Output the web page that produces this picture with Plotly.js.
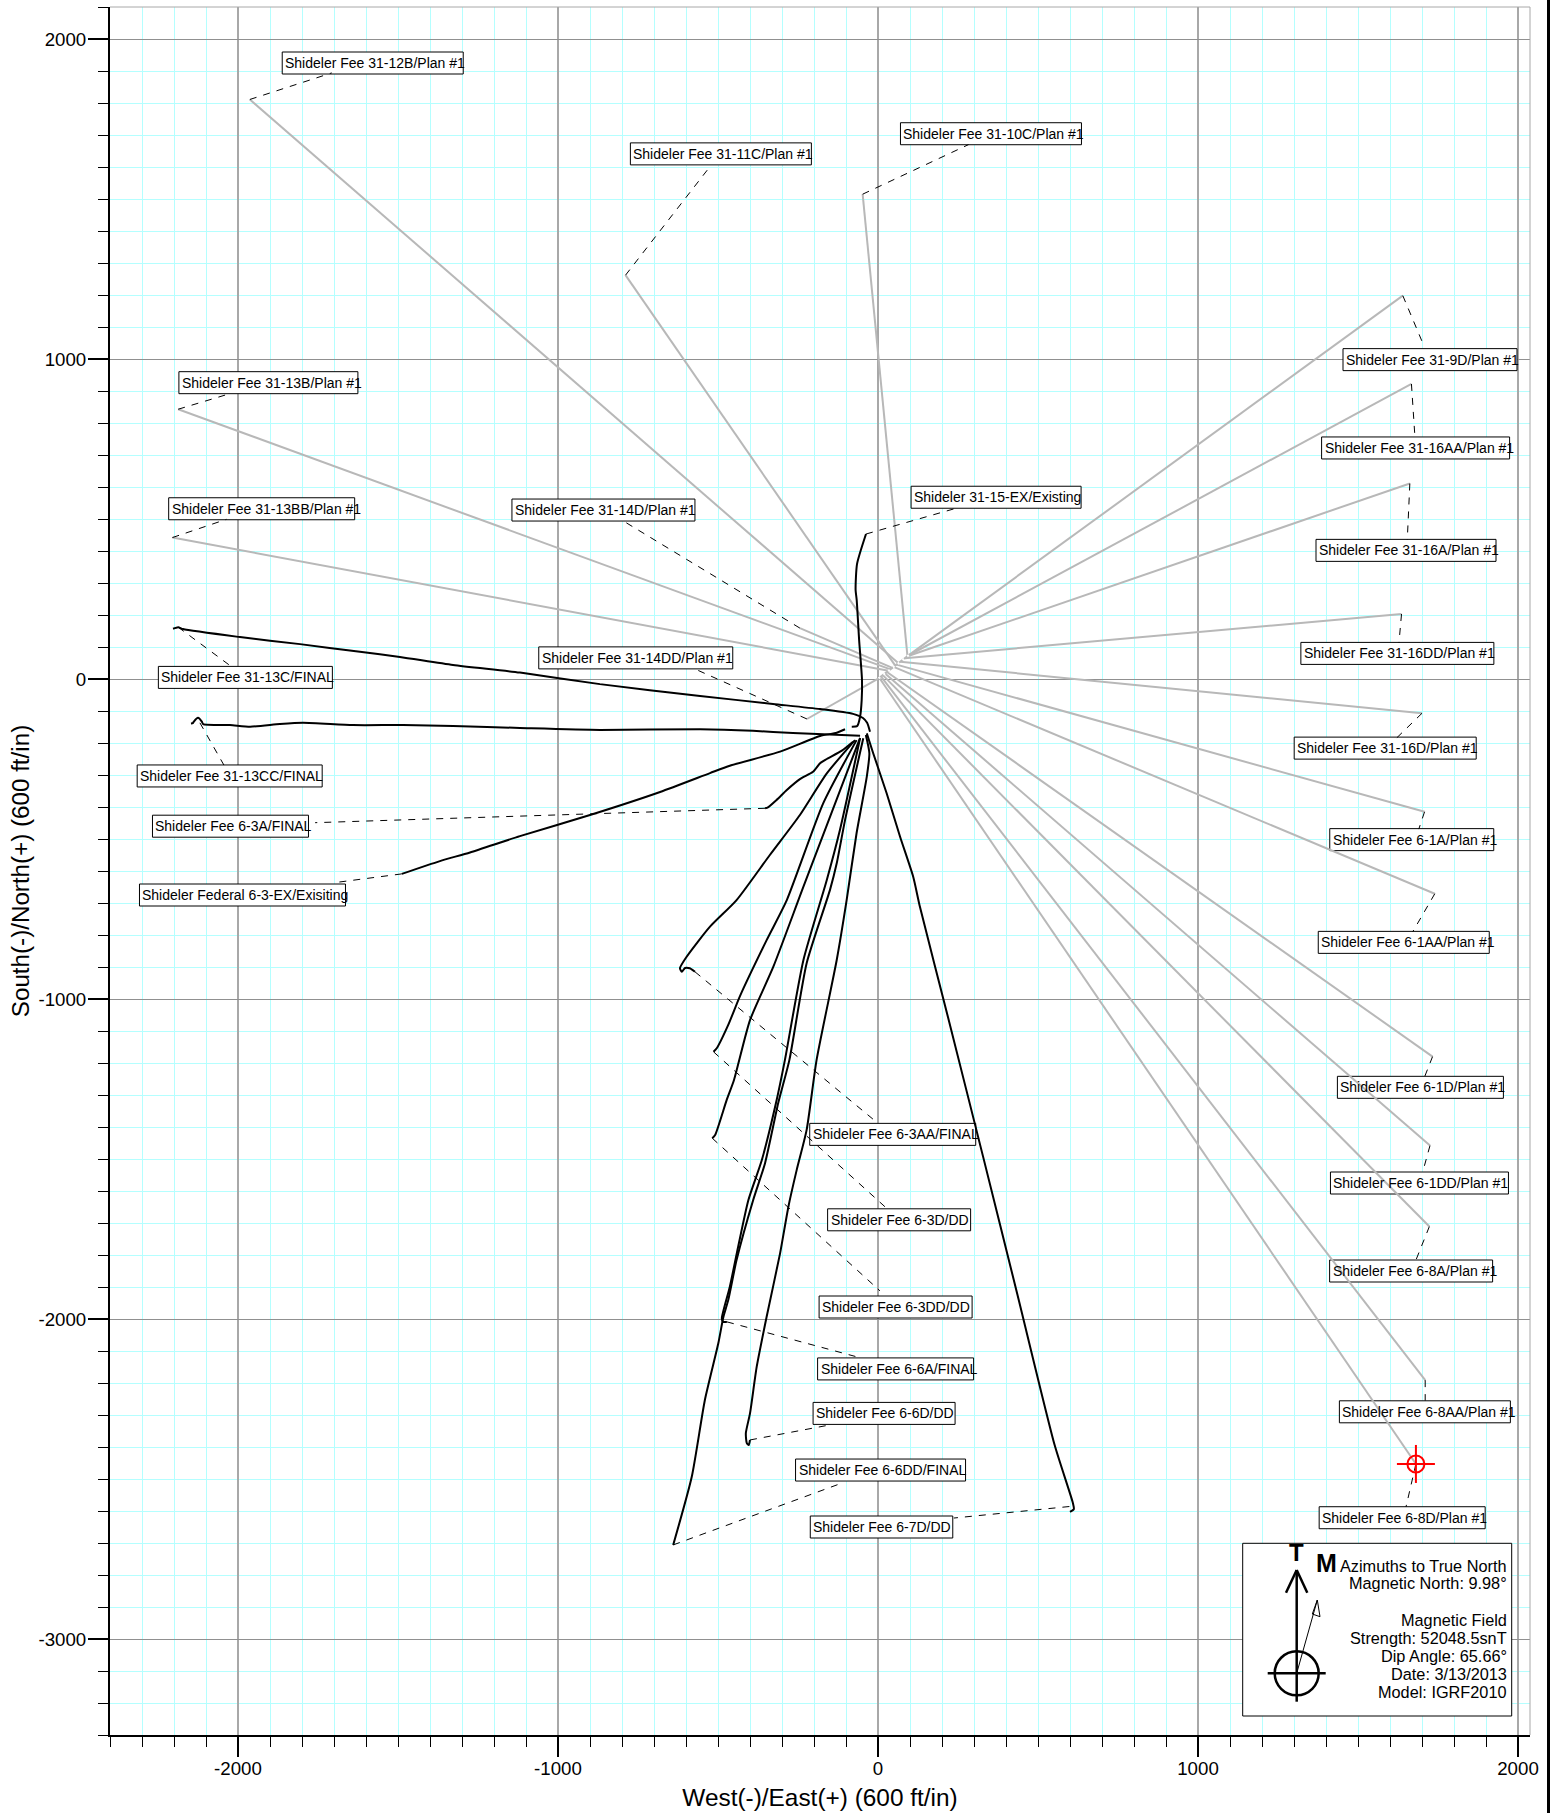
<!DOCTYPE html>
<html><head><meta charset="utf-8">
<script src="https://cdn.plot.ly/plotly-3.0.1.min.js"></script>
<style>html,body{margin:0;padding:0;background:#fff}#c{width:1554px;height:1813px}</style>
</head><body><div id="c"></div><script>
// ---- plan wells (grey straight lines): surface point -> target
const planNames=['31-12B','31-11C','31-10C','31-9D','31-16AA','31-16A','31-16DD','31-16D','6-1A','6-1AA','6-1D','6-1DD','6-8A','6-8AA','6-8D','31-13B','31-13BB','31-14D','31-14DD'];
const planStartX=[64,54,92,105,98,92,84,70,58,49,28,22,15,9,4,39,33,45,2];
const planStartY=[49,42,72,81,75,71,65,54,45,38,22,17,12,8,4,30,26,35,2];
const planEndX=[-1963,-789,-48,1640,1667,1662,1636,1700,1708,1740,1733,1725,1723,1710,1681,-2187,-2205,-244,-222];
const planEndY=[1811,1262,1515,1198,922,611,203,-107,-415,-671,-1180,-1458,-1711,-2191,-2453,843,442,159,-125];
const padX=[2,105];
const padY=[2,81];
// ---- drilled wells (black)
const w3115X=[-37.5,-65.6,-70,-66.6,-59,-50,-51,-56,-65,-82];
const w3115Y=[453,359,278,247,122,-3,-66,-118,-147,-149];
const w3113CX=[-25,-34,-47,-78,-181,-328,-556,-869,-1119,-1328,-1494,-1619,-1806,-1994,-2172,-2187,-2203];
const w3113CY=[-165,-137,-122,-109,-94,-78,-53,-16,20,44,69,85,109,131,156,162,157];
const w3113CCX=[-56,-266,-391,-556,-869,-1119,-1328,-1484,-1641,-1797,-1869,-1962,-2025,-2109,-2113,-2125,-2138,-2141,-2147];
const w3113CCY=[-177,-169,-162,-157,-159,-153,-147,-144,-144,-137,-141,-149,-144,-141,-133,-121,-133,-138,-139];
const w63EXX=[-103,-129,-181,-306,-463,-525,-681,-900,-1119,-1275,-1369,-1488];
const w63EXY=[-157,-168,-178,-227,-271,-294,-353,-425,-491,-542,-569,-609];
const w63AX=[-78,-113,-160,-181,-203,-244,-285,-317,-344,-353];
const w63AY=[-196,-224,-250,-263,-290,-313,-347,-378,-401,-404];
const w63AAX=[-72,-160,-244,-338,-442,-525,-598,-619,-613,-603,-588,-572];
const w63AAY=[-191,-295,-425,-550,-691,-774,-868,-904,-915,-903,-904,-915];
const w63DX=[-67,-171,-285,-348,-431,-468,-504,-514];
const w63DY=[-191,-388,-691,-816,-990,-1081,-1154,-1165];
const w63DDX=[-56,-233,-327,-400,-450,-473,-509,-518];
const w63DDY=[-184,-649,-899,-1066,-1253,-1316,-1425,-1435];
const w66AX=[-56,-119,-160,-233,-291,-319,-363,-405,-437,-463,-488,-484,-472];
const w66AY=[-185,-472,-628,-878,-1191,-1326,-1503,-1628,-1774,-1899,-1998,-2009,-2009];
const w66DDX=[-46,-103,-129,-150,-223,-277,-312,-353,-390,-442,-468,-483,-499,-541,-582,-640];
const w66DDY=[-185,-441,-576,-659,-888,-1191,-1326,-1513,-1628,-1816,-1941,-1993,-2076,-2253,-2493,-2706];
const w66DX=[-38,-27,-35,-67,-98,-129,-192,-223,-254,-280,-306,-348,-379,-400,-413,-410,-404,-400];
const w66DY=[-175,-232,-305,-482,-691,-878,-1191,-1409,-1534,-1649,-1795,-1993,-2149,-2295,-2357,-2388,-2394,-2378];
const w67DX=[-35,-15,27,69,110,131,219,328,436,552,609,612,600];
const w67DY=[-170,-232,-357,-493,-618,-712,-1058,-1491,-1925,-2394,-2575,-2594,-2603];
const drilled=[[w3115X,w3115Y],[w3113CX,w3113CY],[w3113CCX,w3113CCY],[w63EXX,w63EXY],[w63AX,w63AY],[w63AAX,w63AAY],[w63DX,w63DY],[w63DDX,w63DDY],[w66AX,w66AY],[w66DDX,w66DDY],[w66DX,w66DY],[w67DX,w67DY]];
// ---- well labels
const labelText=['Shideler Fee 31-12B/Plan #1','Shideler Fee 31-11C/Plan #1','Shideler Fee 31-10C/Plan #1','Shideler Fee 31-9D/Plan #1','Shideler Fee 31-16AA/Plan #1','Shideler Fee 31-16A/Plan #1','Shideler Fee 31-16DD/Plan #1','Shideler Fee 31-16D/Plan #1','Shideler Fee 6-1A/Plan #1','Shideler Fee 6-1AA/Plan #1','Shideler Fee 6-1D/Plan #1','Shideler Fee 6-1DD/Plan #1','Shideler Fee 6-8A/Plan #1','Shideler Fee 6-8AA/Plan #1','Shideler Fee 6-8D/Plan #1','Shideler Fee 31-13B/Plan #1','Shideler Fee 31-13BB/Plan #1','Shideler Fee 31-14D/Plan #1','Shideler Fee 31-14DD/Plan #1','Shideler 31-15-EX/Existing','Shideler Fee 31-13C/FINAL','Shideler Fee 31-13CC/FINAL','Shideler Fee 6-3A/FINAL','Shideler Federal 6-3-EX/Exisiting','Shideler Fee 6-3AA/FINAL','Shideler Fee 6-3D/DD','Shideler Fee 6-3DD/DD','Shideler Fee 6-6A/FINAL','Shideler Fee 6-6D/DD','Shideler Fee 6-6DD/FINAL','Shideler Fee 6-7D/DD'];
const labelX=[-1579,-491,353,1725,1680,1650,1623,1585,1668,1643,1695,1692,1666,1709,1638,-1905,-1926,-858,-757,369,-1977,-2026,-2023.5,-1986,46,66,55,55,19,8,11];
const labelY=[1925,1641,1704,998,722,402,80,-216,-502,-823,-1276,-1575,-1850,-2290,-2621,926,532,528,66,568,5,-303,-460,-675,-1423,-1690,-1962.5,-2156,-2295,-2472,-2650];
const labelW=[181,181,181,174,188,180,193,182,164,171,166,178,163,171,166,179,186,183,194,170,174,185,156,206,166,143,153,156,142,170,142.5];
// ---- dashed leaders, same order as labels
const leadFromX=[-1963,-789,-48,1640,1667,1662,1636,1700,1708,1740,1733,1725,1723,1710,1681,-2187,-2205,-244,-222,-37.5,-2187,-2119,-353,-1488,-572,-514,-518,-472,-400,-640,598];
const leadFromY=[1811,1262,1515,1198,922,611,203,-107,-415,-671,-1180,-1458,-1711,-2191,-2453,843,442,159,-125,453,162,-137,-404,-609,-915,-1165,-1435,-2009,-2378,-2706,-2586];
const leadToX=[-1707,-533,283,1706,1678,1654,1628,1621,1690,1671,1709,1704,1681,1710,1650,-2021,-2036,-793,-576,256,-2025,-2044,-1759,-1703,-9,27,6,-67,-150,-108,237];
const leadToY=[1894,1591,1670,1041,755,435,113,-184,-469,-790,-1241,-1534,-1816,-2255,-2587,893,499,492,33,537,42,-269,-449,-637,-1381,-1654,-1912,-2118,-2331,-2511,-2622];
// ---- axes
const xTickVals=[-2000,-1000,0,1000,2000];
const xTickText=['-2000','-1000','0','1000','2000'];
const yTickVals=[2000,1000,0,-1000,-2000,-3000];
const yTickText=['2000','1000','0','-1000','-2000','-3000'];
const targetX=[1681];
const targetY=[-2453];
const legendLines=['Azimuths to True North','Magnetic North: 9.98°','Magnetic Field','Strength: 52048.5snT','Dip Angle: 65.66°','Date: 3/13/2013','Model: IGRF2010'];
const legendLineY=[1565.5,1583,1619.5,1637.5,1655.5,1673.5,1691.5];

const L=110,T=7,PW=1420,PH=1728;
const px=v=>(v-L)/PW, py=v=>(T+PH-v)/PH;
const FONT='"Liberation Sans", Arial, sans-serif';

const traces=[];
traces.push({x:padX,y:padY,mode:'lines',line:{color:'#b8b8b8',width:2},hoverinfo:'skip'});
planNames.forEach((n,i)=>traces.push({x:[planStartX[i],planEndX[i]],y:[planStartY[i],planEndY[i]],mode:'lines',line:{color:'#b8b8b8',width:2},name:n,hoverinfo:'skip'}));
traces.push({x:padX,y:padY,mode:'lines',line:{color:'#fff',width:2.2,dash:'2px,4px'},hoverinfo:'skip'});
labelText.forEach((n,i)=>traces.push({x:[leadFromX[i],leadToX[i]],y:[leadFromY[i],leadToY[i]],mode:'lines',line:{color:'#000',width:1,dash:'7px,7px'},hoverinfo:'skip'}));
drilled.forEach(d=>traces.push({x:d[0],y:d[1],mode:'lines',line:{color:'#000',width:2,shape:'spline',smoothing:0.6},hoverinfo:'skip'}));

const shapes=[], annotations=[];
labelText.forEach((t,i)=>{
  shapes.push({type:'rect',layer:'between',xref:'x',yref:'y',xsizemode:'pixel',ysizemode:'pixel',xanchor:labelX[i],yanchor:labelY[i],
    x0:-labelW[i]/2,x1:labelW[i]/2,y0:-11,y1:11,fillcolor:'#fff',line:{color:'#000',width:1}});
  annotations.push({xref:'x',yref:'y',x:labelX[i],y:labelY[i],xanchor:'left',yanchor:'middle',xshift:-labelW[i]/2+1,yshift:0,showarrow:false,align:'left',text:t.replace(/ /g,'\u00a0'),font:{family:FONT,size:14,color:'#000'}});
});
// red target
const tgt=(x0,x1,y0,y1)=>({type:'line',layer:'above',xref:'x',yref:'y',xsizemode:'pixel',ysizemode:'pixel',xanchor:targetX[0],yanchor:targetY[0],x0,x1,y0,y1,line:{color:'#f00',width:2}});
shapes.push(tgt(-19,19,0,0),tgt(0,0,-19,19));
shapes.push({type:'circle',layer:'above',xref:'x',yref:'y',xsizemode:'pixel',ysizemode:'pixel',xanchor:targetX[0],yanchor:targetY[0],x0:-8.5,x1:8.5,y0:-8.5,y1:8.5,line:{color:'#f00',width:2}});
// frame: top & right grey, page rule
const pl=(x0,y0,x1,y1,c,w,layer)=>({type:'line',layer:layer||'above',xref:'paper',yref:'paper',x0:px(x0),y0:py(y0),x1:px(x1),y1:py(y1),line:{color:c,width:w}});
shapes.push(pl(110,7,1530,7,'#a8a8a8',1),pl(1530,7,1530,1735,'#a8a8a8',1));
shapes.push(pl(1548.5,0,1548.5,1813,'#000',3));
// legend box and compass
shapes.push({type:'rect',layer:'above',xref:'paper',yref:'paper',x0:px(1242.7),x1:px(1511.7),y0:py(1716),y1:py(1543.3),fillcolor:'#fff',line:{color:'#000',width:1}});
shapes.push(pl(1296.7,1570,1296.7,1701.7,'#000',2.5),pl(1286,1592.7,1296.7,1570,'#000',2.5),pl(1307.3,1592.7,1296.7,1570,'#000',2.5));
shapes.push(pl(1267.7,1673.3,1325.7,1673.3,'#000',2.5));
shapes.push({type:'circle',layer:'above',xref:'paper',yref:'paper',x0:px(1274.7),x1:px(1318.7),y0:py(1695.3),y1:py(1651.3),line:{color:'#000',width:2.5}});
shapes.push(pl(1296.7,1673.3,1317.3,1600,'#000',1),pl(1317.3,1600,1312.3,1614,'#000',1),pl(1312.3,1614,1320,1616.7,'#000',1),pl(1320,1616.7,1317.3,1600,'#000',1));
annotations.push({xref:'paper',yref:'paper',x:px(1296.7),y:py(1552),xanchor:'center',yanchor:'middle',showarrow:false,text:'<b>T</b>',font:{family:FONT,size:24,color:'#000'}});
annotations.push({xref:'paper',yref:'paper',x:px(1326),y:py(1563),xanchor:'center',yanchor:'middle',showarrow:false,text:'<b>M</b>',font:{family:FONT,size:25,color:'#000'}});
legendLines.forEach((t,i)=>annotations.push({xref:'paper',yref:'paper',x:px(1509),y:py(legendLineY[i]),xanchor:'right',yanchor:'middle',showarrow:false,align:'right',text:t,font:{family:FONT,size:16.3,color:'#000'}}));

const axisCommon={showline:true,linecolor:'#000',linewidth:2,ticks:'outside',ticklen:20,tickwidth:2,tickcolor:'#000',tickmode:'array',zeroline:false,showgrid:true,
  tickfont:{family:FONT,size:18.7,color:'#000'},
  minor:{tickmode:'linear',tick0:0,dtick:100,ticks:'outside',ticklen:10,tickwidth:1,tickcolor:'#000',showgrid:true,gridcolor:'#b4ffff',gridwidth:1}};
const layout={width:1554,height:1813,margin:{l:L,r:1554-L-PW,t:T,b:1813-T-PH,pad:0},paper_bgcolor:'#fff',plot_bgcolor:'#fff',showlegend:false,hovermode:false,
  xaxis:Object.assign({},axisCommon,{range:[-2400,2037.5],tickvals:xTickVals,ticktext:xTickText,gridcolor:'#a8a8a8',gridwidth:1.5,ticklabelstandoff:-4,
    title:{text:'West(-)/East(+) (600 ft/in)',font:{family:FONT,size:24.4,color:'#000'},standoff:10}}),
  yaxis:Object.assign({},axisCommon,{range:[-3300,2100],tickvals:yTickVals,ticktext:yTickText,gridcolor:'#909090',gridwidth:1,ticklabelstandoff:-2,
    title:{text:'South(-)/North(+) (600 ft/in)',font:{family:FONT,size:24.2,color:'#000'},standoff:2}}),
  shapes,annotations};
Plotly.newPlot('c',traces,layout,{displayModeBar:false,responsive:false});
</script></body></html>
